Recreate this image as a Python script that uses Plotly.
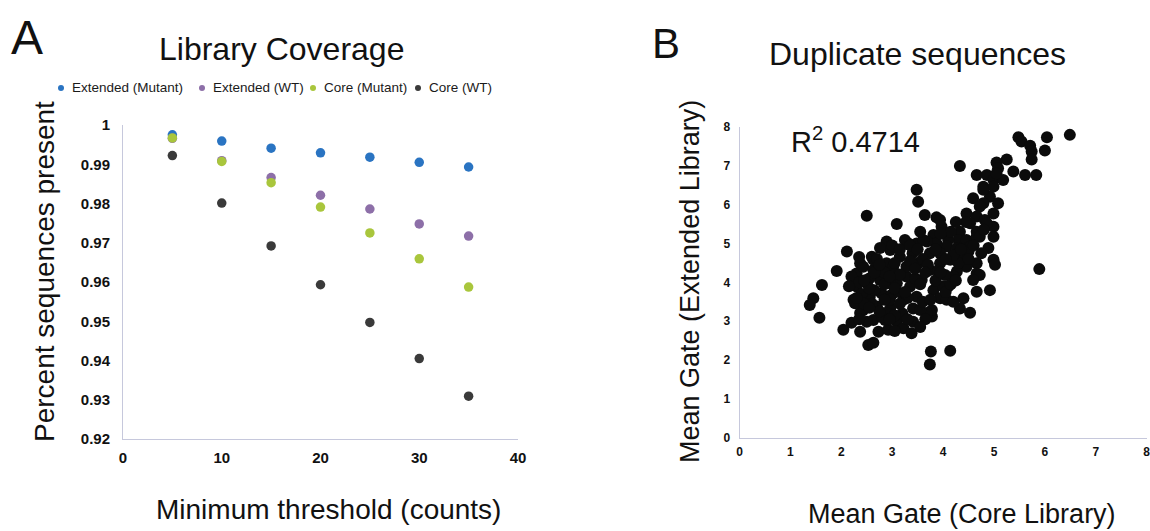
import plotly.graph_objects as go

# ---------------- Panel A data ----------------
threshold = [5, 10, 15, 20, 25, 30, 35]
series_names = ["Extended (Mutant)", "Extended (WT)", "Core (Mutant)", "Core (WT)"]
ext_mut = [0.9975, 0.9959, 0.9941, 0.9929, 0.9918, 0.9905, 0.9893]
ext_wt = [0.9966, 0.9909, 0.9866, 0.9821, 0.9786, 0.9748, 0.9717]
core_mut = [0.9967, 0.9907, 0.9853, 0.9791, 0.9725, 0.9659, 0.9587]
core_wt = [0.9922, 0.9801, 0.9692, 0.9593, 0.9497, 0.9405, 0.9309]
series_colors = ["#2a74c2", "#8d6fa8", "#a9c63c", "#3a3a3a"]

a_yticks = [0.92, 0.93, 0.94, 0.95, 0.96, 0.97, 0.98, 0.99, 1.0]
a_yticklabels = ["0.92", "0.93", "0.94", "0.95", "0.96", "0.97", "0.98", "0.99", "1"]
a_xticks = [0, 10, 20, 30, 40]

# ---------------- Panel B data ----------------
core_gate = [
    6.49, 6.04, 5.48, 5.54, 5.71, 6.00, 5.74, 5.74, 5.25, 5.05,
    5.38, 5.61, 5.83, 4.33, 4.66, 4.86, 5.08, 4.99, 5.18, 4.79,
    4.99, 4.92, 4.59, 4.79, 5.08, 3.48, 3.51, 2.50, 3.09, 3.64,
    3.87, 3.97, 4.46, 4.72, 4.66, 4.99, 4.53, 4.82, 4.66, 4.99,
    4.99, 4.89, 4.99, 5.02, 5.89, 4.33, 4.30, 4.46, 4.10, 4.07,
    4.27, 4.53, 4.66, 3.81, 3.87, 3.68, 3.48, 3.32, 2.89, 2.96,
    2.76, 2.60, 2.11, 1.91, 1.62, 1.45, 2.37, 2.30, 3.74, 3.94,
    4.14, 4.40, 4.66, 4.46, 4.27, 4.66, 4.66, 4.92, 4.40, 1.38,
    1.57, 2.04, 2.20, 2.37, 2.53, 2.63, 2.73, 2.92, 2.63, 2.86,
    3.09, 3.22, 3.38, 3.41, 3.78, 3.78, 3.76, 3.74, 4.14, 4.33,
    4.53, 4.72, 2.24, 2.30, 2.20, 2.43, 2.50, 2.56, 2.43, 2.70,
    2.79, 2.76, 2.63, 2.89, 3.02, 3.09, 2.99, 2.96, 3.28, 3.35,
    3.48, 3.41, 3.22, 3.58, 3.74, 3.81, 3.94, 4.07, 4.10, 4.20,
    3.94, 3.51, 3.15, 3.28, 4.04, 3.68, 3.09, 3.25, 3.61, 2.63,
    3.02, 2.50, 2.37, 2.27, 2.89, 3.55, 2.96, 4.86, 4.72, 3.94,
    4.59, 5.05, 4.79,
    2.70, 3.00, 3.40, 3.60, 2.55, 2.85, 3.15, 3.45, 2.65, 2.95,
    3.30, 3.60, 2.40, 2.60, 3.20, 3.90, 4.00, 2.80, 3.05, 2.35,
    3.70, 3.30, 4.20, 4.30, 4.50, 4.20, 3.55,
    2.35, 2.45, 2.55, 2.65, 2.75, 2.85, 2.95, 3.05, 3.15, 3.25,
    3.35, 3.45, 3.55, 3.65, 3.75, 3.85, 3.95, 4.05, 4.15, 4.25,
    2.75, 2.85, 3.05, 3.15, 2.45, 2.55, 3.35, 3.50, 3.85, 4.05,
    4.35, 4.50, 4.60, 4.75, 4.80, 4.45, 4.25, 4.15, 3.95, 2.30,
    2.15, 2.35, 3.65, 3.55, 3.05, 2.95,
]
ext_gate = [
    7.79, 7.73, 7.73, 7.62, 7.51, 7.39, 7.36, 7.16, 7.16, 7.08,
    6.85, 6.76, 6.76, 6.99, 6.76, 6.76, 6.93, 6.63, 6.63, 6.46,
    6.46, 6.20, 6.16, 6.03, 6.03, 6.38, 6.07, 5.71, 5.50, 5.73,
    5.67, 5.43, 5.77, 5.95, 5.69, 5.77, 5.52, 5.60, 5.30, 5.43,
    5.17, 4.88, 4.58, 4.45, 4.34, 5.30, 5.09, 5.09, 5.09, 4.92,
    4.88, 4.92, 5.17, 5.22, 5.00, 5.05, 5.00, 5.00, 5.05, 4.83,
    4.88, 4.66, 4.79, 4.29, 3.93, 3.59, 4.49, 4.23, 4.75, 4.75,
    4.58, 4.66, 4.49, 4.40, 4.28, 4.23, 3.76, 3.80, 3.59, 3.42,
    3.09, 2.78, 2.96, 2.73, 2.39, 2.45, 2.73, 2.78, 3.03, 3.03,
    2.99, 2.82, 2.69, 2.99, 3.12, 3.29, 2.22, 1.89, 2.24, 3.33,
    3.22, 4.19, 3.55, 3.89, 4.15, 4.40, 3.98, 3.63, 3.29, 3.38,
    3.72, 4.06, 4.32, 4.49, 4.23, 3.98, 3.68, 3.33, 4.15, 3.89,
    3.63, 3.33, 3.55, 4.06, 4.32, 3.80, 3.59, 3.55, 3.89, 4.15,
    4.49, 4.49, 4.66, 4.40, 4.19, 3.21, 3.76, 5.09, 5.09, 4.58,
    4.40, 2.99, 3.21, 3.46, 3.21, 3.29, 3.98, 5.52, 5.17, 5.60,
    4.06, 6.80, 6.38,
    4.60, 4.95, 4.75, 4.60, 4.10, 4.25, 4.20, 4.10, 3.80, 3.55,
    3.60, 3.50, 3.70, 3.45, 3.20, 4.30, 3.90, 3.10, 4.50, 4.00,
    4.45, 3.05, 3.50, 4.50, 4.80, 4.70, 5.30,
    3.05, 3.45, 3.85, 4.25, 4.45, 3.95, 4.15, 3.85, 3.45, 3.75,
    4.55, 4.35, 3.95, 4.25, 3.55, 4.05, 4.25, 3.75, 3.95, 4.05,
    3.25, 3.55, 3.15, 4.85, 4.05, 3.35, 4.95, 4.85, 4.85, 4.60,
    4.85, 4.60, 4.95, 4.75, 5.35, 5.55, 5.55, 5.30, 5.25, 3.60,
    3.90, 4.65, 3.05, 2.85, 2.75, 3.05,
]
b_ticks = [0, 1, 2, 3, 4, 5, 6, 7, 8]
r2_value = 0.4714

FONT = "Liberation Sans, Arial, Helvetica, sans-serif"
W, H = 1150, 531


def px(x):
    return x / W


def py(y):
    return 1 - y / H


fig = go.Figure()

for name, ys, col in zip(series_names, [ext_mut, ext_wt, core_mut, core_wt], series_colors):
    fig.add_trace(go.Scatter(
        x=threshold, y=ys, mode="markers", name=name,
        marker=dict(color=col, size=9.5, line=dict(width=0)),
        xaxis="x", yaxis="y", showlegend=False,
    ))

fig.add_trace(go.Scatter(
    x=core_gate, y=ext_gate, mode="markers", name="Duplicates",
    marker=dict(color="#0b0b0b", size=12, line=dict(width=0)),
    xaxis="x2", yaxis="y2", showlegend=False,
))

axis_line = "#c6c8dc"
common = dict(showgrid=False, zeroline=False, showline=True, linecolor=axis_line, linewidth=1,
              tickcolor="rgba(0,0,0,0)", ticks="outside", automargin=False, fixedrange=True,
              ticklabeloverflow="allow")
fig.update_layout(
    template="none",
    width=W, height=H,
    margin=dict(l=0, r=0, t=0, b=0, pad=0, autoexpand=False),
    paper_bgcolor="white", plot_bgcolor="white",
    font=dict(family=FONT, color="#111111"),
    hovermode=False,
    xaxis=dict(
        domain=[px(123), px(518)], range=[0, 40], tickvals=a_xticks,
        ticklen=5,
        tickfont=dict(family=FONT, size=15, color="#111111", weight="bold"),
        anchor="y", **common,
    ),
    yaxis=dict(
        domain=[py(439), py(125)], range=[0.92, 1.0], tickvals=a_yticks, ticktext=a_yticklabels,
        ticklen=9,
        tickfont=dict(family=FONT, size=15, color="#111111", weight="bold"),
        anchor="x", **common,
    ),
    xaxis2=dict(
        domain=[px(739.5), px(1146.7)], range=[0, 8], tickvals=b_ticks,
        ticklen=3,
        tickfont=dict(family=FONT, size=12, color="#111111", weight="bold"),
        anchor="y2", **common,
    ),
    yaxis2=dict(
        domain=[py(438), py(126.7)], range=[0, 8], tickvals=b_ticks,
        ticklen=6,
        tickfont=dict(family=FONT, size=12, color="#111111", weight="bold"),
        anchor="x2", **common,
    ),
)

ann = []


def add_text(text, x, y, size, xanchor="center", yanchor="middle", angle=0, color="#111111", xref="paper", yref="paper"):
    ann.append(dict(text=text, x=x, y=y, xref=xref, yref=yref, showarrow=False,
                    xanchor=xanchor, yanchor=yanchor, textangle=angle,
                    font=dict(family=FONT, size=size, color=color)))


# Panel letters and titles
add_text("A", px(27), py(37), 48)
add_text("B", px(666), py(44), 42)
add_text("Library Coverage", px(281), py(49), 32)
add_text("Duplicate sequences", px(917), py(54), 32)

# Axis titles
add_text("Minimum threshold (counts)", px(328), py(509), 28)
add_text("Percent sequences present", px(44), py(272), 28, angle=-90)
add_text("Mean Gate (Core Library)", px(962), py(514), 27)
add_text("Mean Gate (Extended Library)", px(690), py(282), 27, angle=-90)

# R^2 label (placed in data coordinates of panel B)
add_text("R<sup>2</sup> 0.%s" % str(r2_value).split(".")[1], 0.98, 7.66, 29,
         xanchor="left", xref="x2", yref="y2")

# Legend (custom, horizontal)
legend_dot_x = [61, 202, 313, 418]
legend_y = 88
shapes = []
for name, col, dx in zip(series_names, series_colors, legend_dot_x):
    shapes.append(dict(type="circle", xref="paper", yref="paper",
                       x0=px(dx - 3), x1=px(dx + 3), y0=py(legend_y + 3), y1=py(legend_y - 3),
                       fillcolor=col, line=dict(width=0)))
    add_text(name, px(dx + 9), py(legend_y), 13.5, xanchor="left", color="#1a1a1a")

fig.update_layout(annotations=ann, shapes=shapes)

fig.write_html("out.html", config={"displayModeBar": False, "staticPlot": True},
               post_script="document.body.style.margin='0px';document.body.style.overflow='hidden';")
